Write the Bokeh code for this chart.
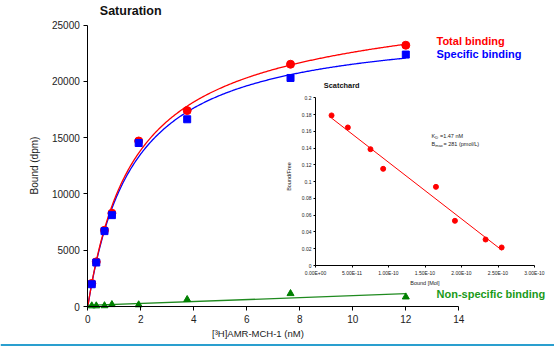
import numpy as np
from bokeh.plotting import figure
from bokeh.models import Label, Range1d, FixedTicker, LinearAxis, Span
from bokeh.embed import file_html
from bokeh.resources import INLINE

# ---------------- data ----------------
conc = [0.15, 0.32, 0.63, 0.91, 1.92, 3.75, 7.65, 12.0]
total = [2050, 3970, 6770, 8290, 14710, 17410, 21530, 23220]
specific = [1980, 3910, 6700, 8120, 14530, 16640, 20310, 22390]
nonspecific = [60, 60, 70, 170, 150, 620, 1150, 850]

x_ticks = [0, 2, 4, 6, 8, 10, 12, 14]
y_ticks = [0, 5000, 10000, 15000, 20000, 25000]

sc_bound = [2.2e-11, 4.43e-11, 7.53e-11, 9.27e-11, 1.65e-10, 1.91e-10, 2.33e-10, 2.55e-10]
sc_ratio = [0.179, 0.1646, 0.1387, 0.1153, 0.0938, 0.0533, 0.031, 0.0215]
sc_x_ticks = [0, 5e-11, 1e-10, 1.5e-10, 2e-10, 2.5e-10, 3e-10]
sc_x_labels = ["0.00E+00", "5.00E-11", "1.00E-10", "1.50E-10", "2.00E-10", "2.50E-10", "3.00E-10"]
sc_y_ticks = [0, 0.02, 0.04, 0.06, 0.08, 0.1, 0.12, 0.14, 0.16, 0.18, 0.2]
sc_y_labels = ["0", "0.02", "0.04", "0.06", "0.08", "0.1", "0.12", "0.14", "0.16", "0.18", "0.2"]

FONT = "Liberation Sans"
RED, BLUE, GREEN = "#FF0000", "#0000FF", "#008000"

# ---------------- fits (computed from the data) ----------------
cx = np.array(conc, float)
ns_slope, ns_int = np.polyfit(cx, np.array(nonspecific, float), 1)


def fit_one_site(x, y):
    best = None
    for kd in np.linspace(0.2, 6.0, 2901):
        f = x / (kd + x)
        bmax = (f @ y) / (f @ f)
        sse = ((y - bmax * f) ** 2).sum()
        if best is None or sse < best[0]:
            best = (sse, kd, bmax)
    return best[1], best[2]


kd_s, bm_s = fit_one_site(cx, np.array(specific, float))
kd_t, bm_t = fit_one_site(cx, np.array(total, float) - ns_slope * cx)
xf = np.linspace(0, max(conc), 300)
spec_fit = bm_s * xf / (kd_s + xf)
tot_fit = bm_t * xf / (kd_t + xf) + ns_slope * xf
ns_x = np.array([0, max(conc)])
ns_fit = ns_int + ns_slope * ns_x

sb = np.array(sc_bound)
m_sc, b_sc = np.polyfit(sb, np.array(sc_ratio), 1)
sc_line_x = np.array([sb.min(), sb.max()])
sc_line_y = m_sc * sc_line_x + b_sc

# ---------------- layout geometry (pixels in the canvas) ----------------
W, H = 554, 346
# main plot: pixel of (0,0) and of (14, 25000)
MX0, MX1, MY0, MY1 = 87.3, 458.3, 306.0, 24.7
mxs = (MX1 - MX0) / 14.0
mys = (MY0 - MY1) / 25000.0
# inset plot: pixel of (0,0) and of (3e-10, 0.2)
SX0, SX1, SY0, SY1 = 315.0, 534.0, 265.0, 97.3
sxs = (SX1 - SX0) / 3e-10
sys_ = (SY0 - SY1) / 0.2

p = figure(width=W, height=H,
           x_range=Range1d(-MX0 / mxs, (W - MX0) / mxs),
           y_range=Range1d(-(H - MY0) / mys, MY0 / mys),
           output_backend="svg", toolbar_location=None,
           min_border_left=0, min_border_right=0, min_border_top=0, min_border_bottom=0)
p.title.visible = False
p.outline_line_color = None
p.grid.visible = False
p.extra_x_ranges = {"sx": Range1d(-SX0 / sxs, (W - SX0) / sxs)}
p.extra_y_ranges = {"sy": Range1d(-(H - SY0) / sys_, SY0 / sys_)}


def style_axis(ax, tick_out, font_size, standoff):
    ax.axis_line_color = "black"
    ax.axis_line_width = 1
    ax.major_tick_line_color = "black"
    ax.major_tick_in = 0
    ax.major_tick_out = tick_out
    ax.minor_tick_line_color = None
    ax.major_label_text_font = FONT
    ax.major_label_text_font_size = font_size
    ax.major_label_text_color = "#222222"
    ax.major_label_standoff = standoff


# main axes, fixed at data 0
xa = p.xaxis[0]
ya = p.yaxis[0]
xa.fixed_location = 0
ya.fixed_location = 0
xa.bounds = (0, 14)
ya.bounds = (0, 25000)
xa.ticker = FixedTicker(ticks=x_ticks)
ya.ticker = FixedTicker(ticks=y_ticks)
style_axis(xa, 4, "10px", 4)
style_axis(ya, 4, "10px", 4)

# inset axes
sxa = LinearAxis(x_range_name="sx", y_range_name="sy", fixed_location=0, bounds=(0, 3e-10),
                 ticker=FixedTicker(ticks=sc_x_ticks),
                 major_label_overrides={t: l for t, l in zip(sc_x_ticks, sc_x_labels)})
sya = LinearAxis(x_range_name="sx", y_range_name="sy", fixed_location=0, bounds=(0, 0.2),
                 ticker=FixedTicker(ticks=sc_y_ticks),
                 major_label_overrides={t: l for t, l in zip(sc_y_ticks, sc_y_labels)})
style_axis(sxa, 2, "5px", 2)
style_axis(sya, 2, "5px", 2)
p.add_layout(sxa, "below")
p.add_layout(sya, "left")

# main glyphs
p.line(xf, spec_fit, line_color=BLUE, line_width=1.3)
p.line(xf, tot_fit, line_color=RED, line_width=1.3)
p.line(ns_x, ns_fit, line_color="#1f8a1f", line_width=1.3)
p.scatter(conc, total, marker="circle", size=8, fill_color=RED, line_color=RED)
p.scatter(conc, specific, marker="square", size=7, fill_color=BLUE, line_color=BLUE)
p.scatter(conc, nonspecific, marker="triangle", size=7, fill_color=GREEN, line_color=GREEN)

# inset glyphs
p.line(sc_line_x, sc_line_y, line_color=RED, line_width=1, x_range_name="sx", y_range_name="sy")
p.scatter(sc_bound, sc_ratio, marker="circle", size=5, fill_color=RED, line_color=RED,
          x_range_name="sx", y_range_name="sy")


def lab(text, rx, ry, size, color="#111111", bold=False, align="left", angle=0.0):
    p.add_layout(Label(x=rx, y=H - ry, x_units="screen", y_units="screen", text=text,
                       text_font=FONT, text_font_size=size, text_color=color,
                       text_font_style="bold" if bold else "normal",
                       text_align=align, text_baseline="middle", angle=angle))


# main texts
lab("Saturation", 99.3, 10.5, "12.5px", "#111111", True)
lab("Total binding", 436, 40, "11px", RED, True)
lab("Specific binding", 436, 53.5, "11px", BLUE, True)
lab("Non-specific binding", 436, 293.8, "11px", "#1a9a1a", True)
lab("[³H]AMR-MCH-1 (nM)", 257.4, 333, "9.5px", "#222222", False, "center")
lab("Bound (dpm)", 33.5, 165, "10px", "#222222", False, "center", np.pi / 2)

# inset texts
lab("Scatchard", 323.3, 84.5, "7.4px", "#111111", True)
lab("Bound/Free", 288.7, 176, "5.5px", "#222222", False, "center", np.pi / 2)
lab("Bound [Mol]", 424.4, 282.7, "5.5px", "#222222", False, "center")
lab("K", 431, 135, "5.5px", "#222222")
lab("D", 434.8, 136.5, "4px", "#222222")
lab("=1.47 nM", 439.5, 135, "5.5px", "#222222")
lab("B", 431, 143.3, "5.5px", "#222222")
lab("max", 434.8, 144.8, "4px", "#222222")
lab("= 281 (pmol/L)", 443, 143.3, "5.5px", "#222222")

# thin teal rule along the bottom edge of the picture
p.add_layout(Span(location=H - 344.5, location_units="screen", dimension="width",
                  line_color="#2a9fcf", line_width=2))

open("out.html", "w").write(file_html(p, INLINE))
